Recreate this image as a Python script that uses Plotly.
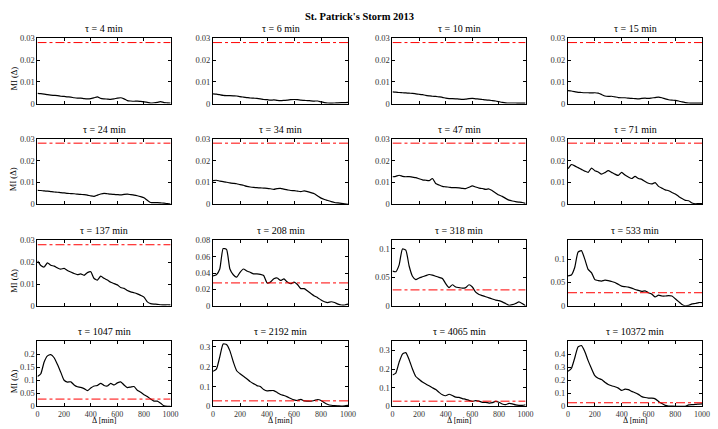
import plotly.graph_objects as go

W, H = 718, 429
FONT = "Liberation Serif"

# Lag axis (minutes)
delta_min = list(range(0, 1001, 25))
x_ticks = [0, 200, 400, 600, 800, 1000]

tau_labels = ["τ = 4 min", "τ = 6 min", "τ = 10 min", "τ = 15 min",
              "τ = 24 min", "τ = 34 min", "τ = 47 min", "τ = 71 min",
              "τ = 137 min", "τ = 208 min", "τ = 318 min", "τ = 533 min",
              "τ = 1047 min", "τ = 2192 min", "τ = 4065 min", "τ = 10372 min"]

# Significance threshold
threshold = 0.028

# Mutual information vs. lag for each time scale
mi_tau_4 = [0.0047, 0.0046, 0.0044, 0.0041, 0.0039, 0.0038, 0.0037, 0.0034, 0.0033, 0.0031,
            0.0030, 0.0027, 0.0025, 0.0025, 0.0023, 0.0022, 0.0023, 0.0027, 0.0031, 0.0024,
            0.0022, 0.0021, 0.0020, 0.0022, 0.0025, 0.0027, 0.0022, 0.0014, 0.0012, 0.0011,
            0.0012, 0.0010, 0.0008, 0.0006, 0.0003, 0.0004, 0.0006, 0.0009, 0.0005, 0.0004, 0.0003]
mi_tau_6 = [0.0045, 0.0044, 0.0041, 0.0038, 0.0037, 0.0037, 0.0036, 0.0035, 0.0032, 0.0030,
            0.0028, 0.0026, 0.0025, 0.0024, 0.0022, 0.0019, 0.0018, 0.0016, 0.0017, 0.0015,
            0.0014, 0.0015, 0.0016, 0.0018, 0.0019, 0.0018, 0.0016, 0.0015, 0.0014, 0.0013,
            0.0012, 0.0012, 0.0008, 0.0005, 0.0003, 0.0002, 0.0003, 0.0004, 0.0005, 0.0005, 0.0006]
mi_tau_10 = [0.0054, 0.0053, 0.0051, 0.0050, 0.0049, 0.0048, 0.0047, 0.0045, 0.0043, 0.0041,
             0.0038, 0.0036, 0.0034, 0.0033, 0.0031, 0.0029, 0.0025, 0.0023, 0.0023, 0.0022,
             0.0021, 0.0020, 0.0021, 0.0023, 0.0024, 0.0022, 0.0021, 0.0019, 0.0017, 0.0016,
             0.0014, 0.0012, 0.0009, 0.0006, 0.0004, 0.0003, 0.0003, 0.0003, 0.0002, 0.0002, 0.0002]
mi_tau_15 = [0.0060, 0.0058, 0.0055, 0.0052, 0.0051, 0.0050, 0.0050, 0.0049, 0.0050, 0.0048,
             0.0042, 0.0035, 0.0033, 0.0034, 0.0031, 0.0028, 0.0027, 0.0027, 0.0025, 0.0024,
             0.0023, 0.0022, 0.0024, 0.0025, 0.0024, 0.0026, 0.0028, 0.0030, 0.0027, 0.0022,
             0.0018, 0.0016, 0.0015, 0.0012, 0.0008, 0.0005, 0.0003, 0.0002, 0.0002, 0.0002, 0.0002]
mi_tau_24 = [0.0064, 0.0063, 0.0061, 0.0060, 0.0058, 0.0056, 0.0055, 0.0053, 0.0052, 0.0050,
             0.0049, 0.0048, 0.0046, 0.0045, 0.0044, 0.0042, 0.0038, 0.0036, 0.0042, 0.0047,
             0.0050, 0.0048, 0.0046, 0.0045, 0.0044, 0.0043, 0.0045, 0.0046, 0.0044, 0.0042,
             0.0039, 0.0035, 0.0030, 0.0018, 0.0008, 0.0007, 0.0007, 0.0006, 0.0005, 0.0003, 0.0001]
mi_tau_34 = [0.0108, 0.0110, 0.0106, 0.0104, 0.0101, 0.0098, 0.0096, 0.0094, 0.0090, 0.0087,
             0.0082, 0.0079, 0.0077, 0.0076, 0.0075, 0.0074, 0.0073, 0.0071, 0.0068, 0.0072,
             0.0073, 0.0069, 0.0066, 0.0063, 0.0062, 0.0060, 0.0058, 0.0061, 0.0058, 0.0053,
             0.0048, 0.0038, 0.0028, 0.0022, 0.0017, 0.0012, 0.0008, 0.0006, 0.0004, 0.0002, 0.0000]
mi_tau_47 = [0.0126, 0.0128, 0.0133, 0.0128, 0.0126, 0.0127, 0.0124, 0.0122, 0.0117, 0.0112,
             0.0110, 0.0108, 0.0118, 0.0095, 0.0088, 0.0082, 0.0080, 0.0078, 0.0076, 0.0076,
             0.0075, 0.0073, 0.0072, 0.0078, 0.0084, 0.0079, 0.0074, 0.0072, 0.0068, 0.0070,
             0.0062, 0.0052, 0.0042, 0.0036, 0.0027, 0.0019, 0.0015, 0.0012, 0.0010, 0.0008, 0.0004]
mi_tau_71 = [0.0163, 0.0182, 0.0176, 0.0168, 0.0160, 0.0152, 0.0146, 0.0166, 0.0154, 0.0148,
             0.0138, 0.0145, 0.0154, 0.0146, 0.0138, 0.0132, 0.0146, 0.0134, 0.0125, 0.0118,
             0.0128, 0.0118, 0.0114, 0.0104, 0.0096, 0.0093, 0.0099, 0.0082, 0.0074, 0.0066,
             0.0062, 0.0054, 0.0047, 0.0036, 0.0026, 0.0018, 0.0016, 0.0006, 0.0002, 0.0003, 0.0003]
mi_tau_137 = [0.0206, 0.0185, 0.0178, 0.0197, 0.0186, 0.0182, 0.0174, 0.0168, 0.0172, 0.0162,
              0.0155, 0.0148, 0.0143, 0.0146, 0.0140, 0.0152, 0.0156, 0.0125, 0.0118, 0.0136,
              0.0126, 0.0118, 0.0108, 0.0102, 0.0096, 0.0084, 0.0080, 0.0070, 0.0064, 0.0060,
              0.0055, 0.0048, 0.0040, 0.0018, 0.0010, 0.0008, 0.0007, 0.0005, 0.0004, 0.0005, 0.0004]
mi_tau_208 = [0.0366, 0.0380, 0.0450, 0.0700, 0.0690, 0.0450, 0.0380, 0.0350, 0.0410, 0.0450,
              0.0425, 0.0410, 0.0390, 0.0390, 0.0385, 0.0370, 0.0280, 0.0290, 0.0330, 0.0340,
              0.0310, 0.0330, 0.0290, 0.0270, 0.0290, 0.0260, 0.0210, 0.0210, 0.0180, 0.0150,
              0.0120, 0.0100, 0.0070, 0.0050, 0.0040, 0.0050, 0.0040, 0.0020, 0.0010, 0.0010, 0.0020]
mi_tau_318 = [0.061, 0.060, 0.072, 0.100, 0.098, 0.070, 0.052, 0.046, 0.049, 0.051,
              0.053, 0.055, 0.054, 0.052, 0.050, 0.048, 0.039, 0.032, 0.037, 0.033,
              0.032, 0.031, 0.032, 0.037, 0.033, 0.024, 0.020, 0.018, 0.016, 0.014,
              0.012, 0.010, 0.009, 0.007, 0.004, 0.001, 0.002, 0.004, 0.007, 0.004, 0.000]
mi_tau_533 = [0.064, 0.066, 0.082, 0.115, 0.118, 0.100, 0.078, 0.071, 0.056, 0.054,
              0.053, 0.055, 0.054, 0.052, 0.050, 0.046, 0.042, 0.041, 0.040, 0.038,
              0.035, 0.033, 0.031, 0.032, 0.028, 0.025, 0.019, 0.023, 0.021, 0.021,
              0.022, 0.021, 0.015, 0.009, 0.003, 0.000, 0.001, 0.004, 0.005, 0.007, 0.007]
mi_tau_1047 = [0.114, 0.125, 0.170, 0.193, 0.198, 0.186, 0.160, 0.130, 0.100, 0.093,
               0.094, 0.082, 0.075, 0.073, 0.068, 0.060, 0.070, 0.078, 0.080, 0.088,
               0.080, 0.078, 0.088, 0.082, 0.090, 0.094, 0.082, 0.072, 0.074, 0.076,
               0.062, 0.054, 0.045, 0.038, 0.028, 0.020, 0.020, 0.012, 0.002, 0.000, 0.000]
mi_tau_2192 = [0.177, 0.188, 0.250, 0.315, 0.312, 0.280, 0.225, 0.180, 0.165, 0.152,
               0.140, 0.125, 0.115, 0.105, 0.100, 0.085, 0.078, 0.080, 0.080, 0.070,
               0.060, 0.055, 0.048, 0.040, 0.033, 0.030, 0.036, 0.028, 0.027, 0.026,
               0.030, 0.035, 0.030, 0.018, 0.010, 0.006, 0.004, 0.003, 0.002, 0.003, 0.005]
mi_tau_4065 = [0.168, 0.178, 0.237, 0.280, 0.288, 0.250, 0.200, 0.160, 0.145, 0.130,
               0.120, 0.110, 0.100, 0.090, 0.075, 0.062, 0.057, 0.065, 0.058, 0.050,
               0.048, 0.042, 0.038, 0.032, 0.027, 0.031, 0.028, 0.022, 0.022, 0.018,
               0.020, 0.027, 0.022, 0.013, 0.010, 0.016, 0.014, 0.008, 0.006, 0.006, 0.009]
mi_tau_10372 = [0.268, 0.290, 0.370, 0.455, 0.465, 0.420, 0.350, 0.290, 0.235, 0.215,
                0.205, 0.185, 0.168, 0.158, 0.150, 0.140, 0.122, 0.132, 0.128, 0.115,
                0.105, 0.092, 0.075, 0.068, 0.064, 0.063, 0.058, 0.038, 0.022, 0.008,
                0.003, 0.002, 0.001, 0.001, 0.001, 0.001, 0.012, 0.014, 0.015, 0.018, 0.020]

curves = [mi_tau_4, mi_tau_6, mi_tau_10, mi_tau_15,
          mi_tau_24, mi_tau_34, mi_tau_47, mi_tau_71,
          mi_tau_137, mi_tau_208, mi_tau_318, mi_tau_533,
          mi_tau_1047, mi_tau_2192, mi_tau_4065, mi_tau_10372]

# y-axis limits and ticks per panel
ticks_small = [0, 0.01, 0.02, 0.03]
text_small = ["0", "0.01", "0.02", "0.03"]
y_max = [0.03] * 9 + [0.08, 0.115, 0.14, 0.25, 0.33, 0.35, 0.5]
y_ticks = [ticks_small] * 9 + [
    [0, 0.02, 0.04, 0.06, 0.08],
    [0, 0.05, 0.1],
    [0, 0.05, 0.1],
    [0, 0.05, 0.1, 0.15, 0.2],
    [0, 0.1, 0.2, 0.3],
    [0, 0.1, 0.2, 0.3],
    [0, 0.1, 0.2, 0.3, 0.4],
]
y_ticktext = [text_small] * 9 + [
    ["0", "0.02", "0.04", "0.06", "0.08"],
    ["0", "0.05", "0.1"],
    ["0", "0.05", "0.1"],
    ["0", "0.05", "0.1", "0.15", "0.2"],
    ["0", "0.1", "0.2", "0.3"],
    ["0", "0.1", "0.2", "0.3"],
    ["0", "0.1", "0.2", "0.3", "0.4"],
]

# Panel placement in pixels
col_px = [(36, 171), (214, 351), (396, 531), (574, 710)]
row_px = [(34, 101), (137, 204), (241, 308), (344, 411)]


def px_x(p):
    return p / W


def px_y(p):
    return 1 - p / H


y_tick_font = dict(family=FONT, size=8.5, color="#333333")
x_tick_font = dict(family=FONT, size=8, color="#333333")

fig = go.Figure()
annotations = []
layout = {}

for i, ys in enumerate(curves):
    r, c = divmod(i, 4)
    n = "" if i == 0 else str(i + 1)
    xa, ya = "x" + n, "y" + n

    fig.add_trace(go.Scatter(
        x=delta_min, y=ys, xaxis=xa, yaxis=ya, mode="lines",
        line=dict(color="black", width=1.2, shape="spline", smoothing=0.5),
        showlegend=False, hoverinfo="skip"))
    fig.add_trace(go.Scatter(
        x=[delta_min[0], delta_min[-1]], y=[threshold, threshold],
        xaxis=xa, yaxis=ya, mode="lines",
        line=dict(color="#ff0000", width=1, dash="dashdot"),
        showlegend=False, hoverinfo="skip"))

    x0, x1 = col_px[c]
    y0, y1 = row_px[r]
    common = dict(showline=True, linecolor="black", linewidth=1, mirror="ticks",
                  ticks="inside", ticklen=3, tickcolor="black", tickwidth=1,
                  showgrid=False, zeroline=False)
    layout["xaxis" + n] = dict(
        domain=[px_x(x0), px_x(x1)], anchor=ya, range=[0, 1000],
        tickvals=x_ticks, ticktext=[str(v) for v in x_ticks],
        showticklabels=(r == 3), tickfont=x_tick_font, **common)
    layout["yaxis" + n] = dict(
        domain=[px_y(y1), px_y(y0)], anchor=xa, range=[0, y_max[i]],
        tickvals=y_ticks[i], ticktext=y_ticktext[i], tickfont=y_tick_font, **common)

    # panel title
    annotations.append(dict(
        text=tau_labels[i], xref="paper", yref="paper",
        x=px_x((x0 + x1) / 2), y=px_y(y0 - 10), xanchor="center", yanchor="middle",
        showarrow=False, font=dict(family=FONT, size=10, color="black")))
    if c == 0:
        annotations.append(dict(
            text="MI (Δ)", xref="paper", yref="paper",
            x=px_x(12), y=px_y((y0 + y1) / 2 + 8), xanchor="center", yanchor="middle",
            textangle=-90, showarrow=False,
            font=dict(family=FONT, size=8.5, color="black")))
    if r == 3:
        annotations.append(dict(
            text="Δ [min]", xref="paper", yref="paper",
            x=px_x((x0 + x1) / 2), y=0, xanchor="center", yanchor="bottom",
            borderpad=0, yshift=-2, showarrow=False,
            font=dict(family=FONT, size=8, color="black")))

annotations.append(dict(
    text="<b>St. Patrick's Storm 2013</b>", xref="paper", yref="paper",
    x=px_x(363), y=px_y(12), xanchor="center", yanchor="middle",
    showarrow=False, font=dict(family=FONT, size=10.5, color="black")))

fig.update_layout(
    width=W, height=H, margin=dict(l=0, r=0, t=0, b=0),
    paper_bgcolor="white", plot_bgcolor="white",
    annotations=annotations, **layout)

fig.write_html("out.html")
